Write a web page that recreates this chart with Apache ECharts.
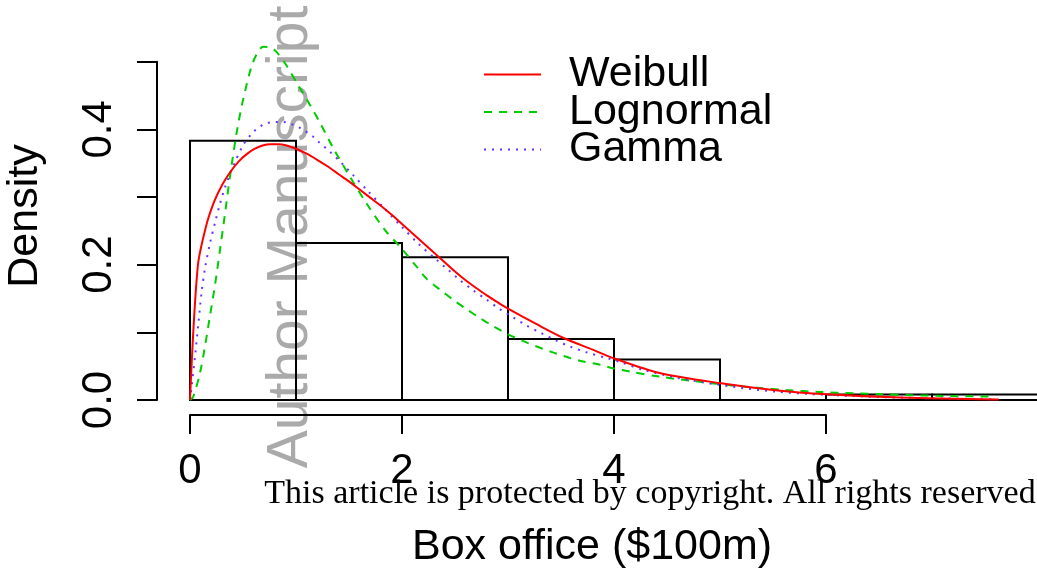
<!DOCTYPE html>
<html>
<head>
<meta charset="utf-8">
<script src="https://cdn.jsdelivr.net/npm/echarts@6/dist/echarts.min.js"></script>
<style>
html,body{margin:0;padding:0;background:#fff;}
#chart{width:1037px;height:568px;}
</style>
</head>
<body>
<div id="chart"></div>
<script>
// Histogram
const breaks = [0, 1, 2, 3, 4, 5, 6, 7, 8];
const density = [0.383, 0.232, 0.211, 0.090, 0.060, 0, 0.008, 0.008];

// Fitted density curves [x, density]
const weibull = [[0,0],[0.073,0.197],[0.152,0.257],[0.228,0.293],[0.304,0.318],[0.38,0.337],[0.456,0.352],[0.532,0.363],[0.608,0.371],[0.684,0.376],[0.76,0.378],[0.836,0.378],[0.912,0.376],[0.988,0.372],[1.1,0.364],[1.2,0.355],[1.3,0.345],[1.4,0.334],[1.5,0.323],[1.6,0.311],[1.7,0.299],[1.8,0.287],[1.9,0.274],[2.0,0.260],[2.1,0.246],[2.2,0.232],[2.3,0.218],[2.4,0.204],[2.5,0.190],[2.6,0.177],[2.7,0.1655],[2.8,0.1545],[2.9,0.1445],[3.0,0.135],[3.27,0.112],[3.52,0.092],[3.805,0.074],[4.01,0.061],[4.43,0.040],[5.01,0.0246],[5.5,0.0148],[6.01,0.0084],[6.7,0.0036],[7.63,0.0008]];

const lognormal = [[0,0],[0.031,0.005],[0.094,0.04],[0.142,0.08],[0.189,0.125],[0.236,0.17],[0.283,0.222],[0.33,0.275],[0.377,0.33],[0.44,0.395],[0.503,0.445],[0.597,0.5],[0.692,0.522],[0.76,0.521],[0.818,0.514],[0.912,0.494],[1.006,0.469],[1.069,0.453],[1.132,0.436],[1.226,0.41],[1.352,0.372],[1.509,0.33],[1.667,0.29],[1.84,0.251],[1.981,0.2265],[2.138,0.197],[2.233,0.179],[2.358,0.163],[2.484,0.148],[2.61,0.134],[2.736,0.121],[2.86,0.109],[3.0,0.097],[3.145,0.087],[3.27,0.079],[3.43,0.070],[3.585,0.062],[3.71,0.057],[3.87,0.052],[3.99,0.047],[4.15,0.042],[4.43,0.0345],[4.75,0.028],[5.03,0.0228],[5.35,0.018],[5.63,0.0146],[5.94,0.0119],[6.26,0.0099],[6.54,0.0084],[6.82,0.0071],[7.14,0.006],[7.59,0.0049]];

const gamma = [[0,0],[0.047,0.064],[0.079,0.113],[0.11,0.16],[0.142,0.195],[0.189,0.232],[0.236,0.262],[0.283,0.29],[0.33,0.314],[0.409,0.346],[0.503,0.377],[0.597,0.396],[0.66,0.404],[0.723,0.409],[0.80,0.411],[0.88,0.411],[0.95,0.408],[1.038,0.402],[1.163,0.389],[1.21,0.382],[1.32,0.367],[1.431,0.35],[1.541,0.332],[1.683,0.308],[1.84,0.282],[1.997,0.256],[2.154,0.231],[2.327,0.207],[2.437,0.192],[2.547,0.177],[2.673,0.162],[2.8,0.148],[2.925,0.134],[3.05,0.122],[3.176,0.11],[3.318,0.0986],[3.46,0.0875],[3.585,0.079],[3.74,0.0705],[3.93,0.062],[4.06,0.056],[4.28,0.0443],[4.59,0.033],[4.9,0.0246],[5.22,0.0175],[5.53,0.0123],[5.85,0.0089],[6.2,0.0062],[6.54,0.0042],[7.01,0.0025],[7.59,0.001]];

const seriesNames = ['Weibull', 'Lognormal', 'Gamma'];
const xTitle = 'Box office ($100m)';
const yTitle = 'Density';

const FONT = 'Liberation Sans, Arial, Helvetica, sans-serif';
const histData = density.map((d, i) => [breaks[i], breaks[i + 1], d]);
const PXU = 106; // pixels per x unit shared by both grids

const hiddenAxis = {show: false, axisLine: {show: false}, axisTick: {show: false}, axisLabel: {show: false}, splitLine: {show: false}};

const chart = echarts.init(document.getElementById('chart'), null, {renderer: 'canvas'});
chart.setOption({
  animation: false,
  backgroundColor: '#fff',
  grid: [
    {left: 190, right: 211, top: 61.65, bottom: 168, containLabel: false},
    {left: 190, right: 0, top: 61.65, bottom: 168, containLabel: false}
  ],
  xAxis: [{
    type: 'value', gridIndex: 0, min: 0, max: 6, interval: 2, offset: 15,
    axisLine: {show: true, onZero: false, lineStyle: {color: '#000', width: 2}},
    axisTick: {show: true, length: 19, lineStyle: {color: '#000', width: 2}},
    axisLabel: {show: true, margin: 35, color: '#000', fontSize: 42, fontFamily: FONT},
    splitLine: {show: false}
  }, Object.assign({type: 'value', gridIndex: 1, min: 0, max: 847 / PXU}, hiddenAxis)],
  yAxis: [{
    type: 'value', gridIndex: 0, min: 0, max: 0.5, interval: 0.1, offset: 33,
    axisLine: {show: true, onZero: false, lineStyle: {color: '#000', width: 2}},
    axisTick: {show: true, length: 20, lineStyle: {color: '#000', width: 2}},
    axisLabel: {
      show: true, rotate: 90, margin: 37, color: '#000', fontSize: 42, fontFamily: FONT,
      formatter: v => { const r = Math.round(v * 10); return (r % 2 === 0 && r <= 4) ? (r / 10).toFixed(1) : ''; }
    },
    splitLine: {show: false}
  }, Object.assign({type: 'value', gridIndex: 1, min: 0, max: 0.5}, hiddenAxis)],
  legend: {
    orient: 'vertical', left: 483, top: 53, padding: 0, itemGap: -5.5,
    itemWidth: 57, itemHeight: 20,
    itemStyle: {opacity: 0},
    data: seriesNames,
    textStyle: {color: '#000', fontSize: 43, fontFamily: FONT, padding: [0, 0, 0, 23]}
  },
  graphic: [
    {type: 'text', z: 0, x: 291, y: 237, rotation: Math.PI / 2,
     style: {text: 'Author Manuscript', fill: '#aaaaaa', font: '57px ' + FONT, textAlign: 'center', textVerticalAlign: 'middle'}},
    {type: 'text', z: 100, x: 650, y: 494,
     style: {text: 'This article is protected by copyright. All rights reserved', fill: '#000', font: '34px "Liberation Serif", "DejaVu Serif", serif', textAlign: 'center', textVerticalAlign: 'middle'}},
    {type: 'text', z: 100, x: 592, y: 547,
     style: {text: xTitle, fill: '#000', font: '43px ' + FONT, textAlign: 'center', textVerticalAlign: 'middle'}},
    {type: 'text', z: 100, x: 25, y: 216, rotation: Math.PI / 2,
     style: {text: yTitle, fill: '#000', font: '43px ' + FONT, textAlign: 'center', textVerticalAlign: 'middle'}}
  ],
  series: [
    {
      type: 'custom', name: 'hist', clip: false, z: 3, xAxisIndex: 1, yAxisIndex: 1,
      data: histData,
      encode: {x: [0, 1], y: 2},
      renderItem: (params, api) => {
        const p0 = api.coord([api.value(0), api.value(2)]);
        const p1 = api.coord([api.value(1), 0]);
        return {type: 'rect', shape: {x: p0[0], y: p0[1], width: p1[0] - p0[0], height: p1[1] - p0[1]},
                style: {fill: 'none', stroke: '#000', lineWidth: 2}};
      }
    },
    {type: 'line', name: 'Weibull', data: weibull, symbol: 'none', clip: false, z: 5, xAxisIndex: 1, yAxisIndex: 1,
     smooth: 0.3, lineStyle: {color: '#ff0000', width: 2, type: 'solid'}, itemStyle: {color: '#ff0000'}},
    {type: 'line', name: 'Lognormal', data: lognormal, symbol: 'none', clip: false, z: 4, xAxisIndex: 1, yAxisIndex: 1,
     smooth: 0.3, lineStyle: {color: '#00cd00', width: 2, type: [8, 7]}, itemStyle: {color: '#00cd00'}},
    {type: 'line', name: 'Gamma', data: gamma, symbol: 'none', clip: false, z: 4, xAxisIndex: 1, yAxisIndex: 1,
     smooth: 0.3, lineStyle: {color: '#6633ff', width: 2, type: [2, 6]}, itemStyle: {color: '#6633ff'}}
  ]
});
</script>
</body>
</html>
